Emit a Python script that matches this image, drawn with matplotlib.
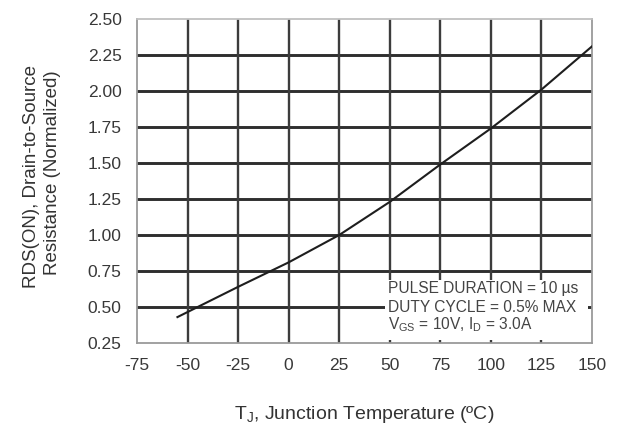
import matplotlib
matplotlib.use("Agg")
import matplotlib.pyplot as plt
from matplotlib.patches import Rectangle

plt.rcParams['font.family'] = ['Liberation Sans', 'DejaVu Sans']
plt.rcParams['mathtext.fontset'] = 'custom'
plt.rcParams['mathtext.rm'] = 'Liberation Sans'
plt.rcParams['mathtext.it'] = 'Liberation Sans'

# Data
temp_c = [-55, -50, -25, 0, 25, 50, 75, 100, 125, 150]
r_norm = [0.43, 0.465, 0.64, 0.81, 1.00, 1.23, 1.49, 1.74, 2.01, 2.31]
x_ticks = [-75, -50, -25, 0, 25, 50, 75, 100, 125, 150]
y_ticks = [0.25, 0.50, 0.75, 1.00, 1.25, 1.50, 1.75, 2.00, 2.25, 2.50]
note_lines = ["PULSE DURATION = 10 µs",
              "DUTY CYCLE = 0.5% MAX",
              r"V$_{\mathrm{GS}}$ = 10V, I$_{\mathrm{D}}$ = 3.0A"]

fig = plt.figure(figsize=(6.2, 4.24), dpi=100)
ax = fig.add_axes([137/620, 1-343/424, (592-137)/620, (343-19)/424])

ax.set_xlim(-75, 150)
ax.set_ylim(0.25, 2.50)
ax.set_xticks(x_ticks)
ax.set_yticks(y_ticks)
ax.set_xticklabels([str(t) for t in x_ticks])
ax.set_yticklabels([f"{v:.2f}" for v in y_ticks])
ax.tick_params(length=0, labelsize=12.5, colors='#383838')
ax.tick_params(axis='y', pad=11)
ax.tick_params(axis='x', pad=11)

for v in y_ticks[1:-1]:
    ax.axhline(v, color='#2e2e2e', lw=2.1, zorder=1)
for t in x_ticks[1:-1]:
    ax.axvline(t, color='#3c3c3c', lw=1.7, zorder=1)

for side in ['left', 'bottom', 'right']:
    ax.spines[side].set_color('#9a9a9a')
    ax.spines[side].set_linewidth(1.3)
ax.spines['top'].set_color('#c0c0c0')
ax.spines['top'].set_linewidth(1.3)

# white note box covering grid
ax.add_patch(Rectangle((47.8, 0.27), 147.8 - 47.8, 0.69 - 0.27,
                       facecolor='white', edgecolor='none', zorder=2))
for txt, yv in zip(note_lines, [0.625, 0.50, 0.375]):
    ax.text(49.3, yv, txt, fontsize=11.2, color='#444444', va='center',
            ha='left', zorder=3)

ax.plot(temp_c, r_norm, color='#1e1e1e', lw=1.5, zorder=4)

ax.set_xlabel(r"T$_{\mathrm{J}}$, Junction Temperature (ºC)", fontsize=14,
              color='#333333', labelpad=22)

fig.text(32/620, 1-177/424, "RDS(ON), Drain-to-Source",
         rotation=90, fontsize=13.5, color='#333333', ha='center', va='center')
fig.text(53/620, 1-173/424, "Resistance (Normalized)",
         rotation=90, fontsize=13.5, color='#333333', ha='center', va='center')

fig.savefig("out.png", dpi=100, facecolor='white')
